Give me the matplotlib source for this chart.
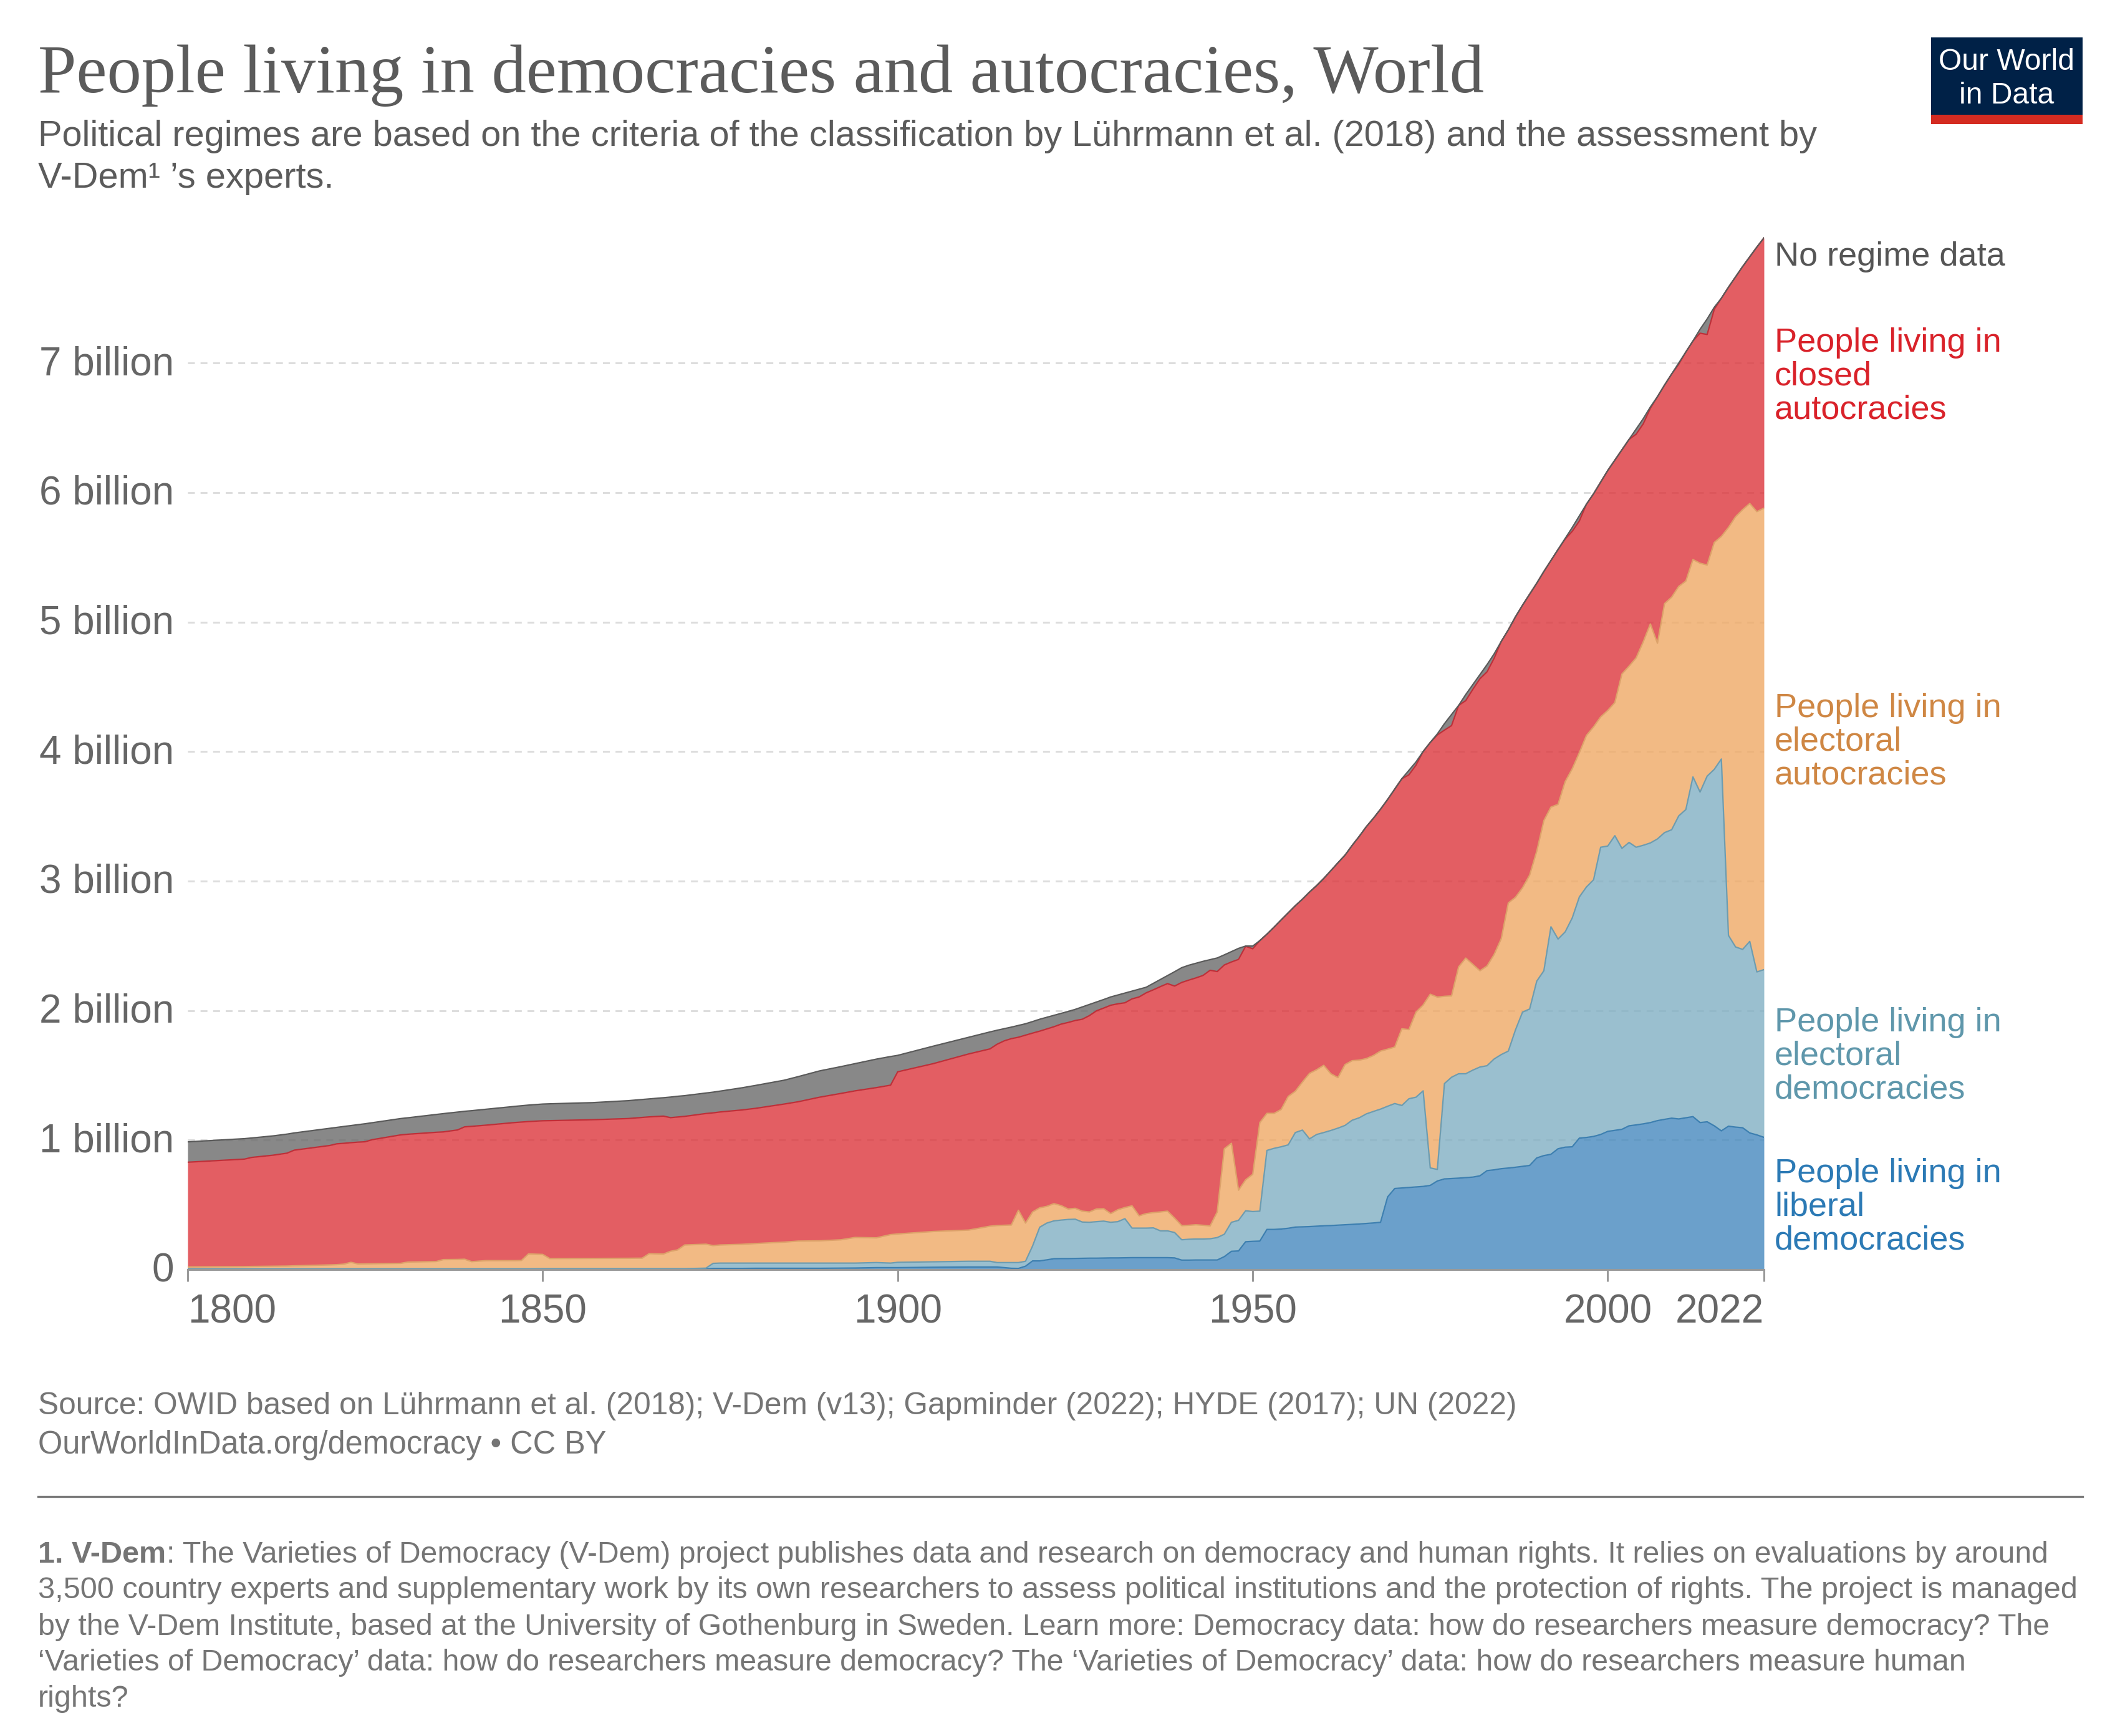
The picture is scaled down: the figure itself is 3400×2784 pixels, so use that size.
#!/usr/bin/env python3
"""People living in democracies and autocracies, World (stacked area)."""

import matplotlib

matplotlib.use("Agg")
import matplotlib.pyplot as plt
from matplotlib.patches import Rectangle
from matplotlib.transforms import ScaledTranslation

WIDTH, HEIGHT = 3400, 2784

# irregular before 1916, yearly after; all series below share this list
YEARS = [
    1800, 1808, 1809, 1812, 1814,
    1815, 1820, 1821, 1822, 1823,
    1824, 1825, 1826, 1830, 1831,
    1835, 1836, 1838, 1839, 1840,
    1842, 1846, 1847, 1848, 1850,
    1851, 1857, 1862, 1864, 1865,
    1867, 1868, 1869, 1870, 1873,
    1874, 1875, 1878, 1880, 1884,
    1886, 1889, 1892, 1894, 1897,
    1899, 1900, 1905, 1910, 1913,
    1914, 1915,
] + list(range(1916, 2023))

# upper edge of each stacked band, billions of people
LIBERAL_TOP = [
    .002, .002, .002, .002, .002,
    .002, .002, .002, .002, .002,
    .002, .002, .002, .002, .002,
    .002, .002, .002, .002, .002,
    .002, .002, .002, .002, .003,
    .003, .003, .003, .003, .003,
    .003, .003, .003, .003, .004,
    .009, .009, .009, .01, .01,
    .01, .01, .011, .012, .015,
    .015, .015, .018, .02, .02,
    .02, .015,
    .01, .009, .026, .067, .067, .075, .084, .085, .085, .086,
    .087, .088, .088, .089, .09, .09, .091, .092, .092, .092,
    .092, .092, .092, .09, .073, .073, .074, .074, .074,
    .074, .10, .141, .144, .215,
    .218, .22, .31, .31, .313, .319, .328, .33, .332, .335,
    .338, .34, .343, .346, .349, .352, .356, .36, .365, .561,
    .626, .63, .634, .638, .642, .65, .684, .70, .703, .706,
    .71, .714, .724, .764, .77, .779, .784, .79, .797, .804,
    .862, .88, .89, .933, .945, .948, 1.015, 1.02, 1.028, 1.043,
    1.067, 1.075, 1.083, 1.11, 1.117, 1.125, 1.135, 1.15, 1.16, 1.169,
    1.163, 1.172, 1.181, 1.135, 1.141, 1.11, 1.071, 1.107, 1.10, 1.095,
    1.055, 1.04, 1.021,
]

ELECTORAL_DEM_TOP = [
    .006, .006, .006, .006, .006,
    .006, .006, .006, .006, .006,
    .006, .006, .006, .006, .006,
    .006, .006, .006, .006, .006,
    .006, .006, .006, .006, .007,
    .007, .007, .007, .007, .007,
    .007, .007, .007, .007, .011,
    .048, .05, .05, .05, .05,
    .05, .05, .05, .05, .054,
    .05, .056, .06, .064, .064,
    .054, .054,
    .054, .054, .064, .183, .327, .359, .376, .382, .387, .389,
    .367, .365, .37, .374, .365, .37, .393, .32, .32, .32,
    .322, .299, .299, .286, .23, .234, .236, .236, .238,
    .247, .273, .365, .38, .454,
    .448, .451, .92, .936, .948, .963, 1.058, 1.077, 1.009, 1.043,
    1.058, 1.074, 1.092, 1.113, 1.153, 1.172, 1.202, 1.221, 1.239, 1.261,
    1.282, 1.267, 1.319, 1.331, 1.38, .785, .773, 1.436, 1.485, 1.512,
    1.512, 1.54, 1.564, 1.574, 1.626, 1.66, 1.687, 1.85, 1.988, 2.012,
    2.227, 2.307, 2.647, 2.552, 2.607, 2.715, 2.877, 2.954, 3.009, 3.261,
    3.27, 3.35, 3.252, 3.298, 3.261, 3.276, 3.294, 3.325, 3.374, 3.396,
    3.503, 3.552, 3.804, 3.687, 3.81, 3.862, 3.942, 2.58, 2.491, 2.472,
    2.534, 2.298, 2.316,
]

ELECTORAL_AUT_TOP = [
    .021, .023, .024, .026, .027,
    .029, .036, .038, .042, .056,
    .043, .044, .045, .048, .058,
    .062, .077, .078, .08, .061,
    .069, .069, .07, .121, .117,
    .085, .086, .087, .088, .123,
    .12, .141, .152, .19, .196,
    .185, .19, .195, .201, .212,
    .22, .222, .23, .248, .245,
    .27, .275, .294, .305, .335,
    .34, .342,
    .344, .458, .359, .445, .477, .488, .509, .494, .468, .473,
    .451, .445, .468, .47, .432, .462, .479, .492, .415, .432,
    .44, .445, .451, .397, .339, .342, .346, .342, .337,
    .445, .933, .975, .613, .693,
    .736, 1.135, 1.206, 1.206, 1.236, 1.337, 1.377, 1.448, 1.515, 1.543,
    1.577, 1.512, 1.482, 1.583, 1.613, 1.617, 1.629, 1.653, 1.687, 1.702,
    1.718, 1.859, 1.853, 1.988, 2.043, 2.126, 2.104, 2.11, 2.113, 2.337,
    2.405, 2.356, 2.307, 2.344, 2.433, 2.555, 2.831, 2.874, 2.948, 3.046,
    3.23, 3.466, 3.571, 3.592, 3.767, 3.867, 3.991, 4.124, 4.19, 4.267,
    4.317, 4.378, 4.599, 4.659, 4.723, 4.847, 4.985, 4.836, 5.142, 5.192,
    5.275, 5.316, 5.482, 5.454, 5.44, 5.614, 5.661, 5.73, 5.813, 5.868,
    5.915, 5.852, 5.879,
]

CLOSED_AUT_TOP = [
    .829, .853, .866, .883, .899,
    .922, .958, .971, .975, .98,
    .984, .987, 1.003, 1.04, 1.045,
    1.06, 1.063, 1.078, 1.102, 1.106,
    1.115, 1.135, 1.139, 1.143, 1.149,
    1.15, 1.157, 1.166, 1.175, 1.179,
    1.185, 1.173, 1.178, 1.183, 1.205,
    1.21, 1.217, 1.232, 1.245, 1.278,
    1.296, 1.331, 1.36, 1.38, 1.405,
    1.424, 1.527, 1.59, 1.665, 1.704,
    1.74, 1.766,
    1.783, 1.794, 1.81, 1.826, 1.841, 1.858, 1.875, 1.895, 1.908, 1.923,
    1.933, 1.961, 1.998, 2.019, 2.041, 2.052, 2.06, 2.09, 2.105, 2.137,
    2.16, 2.185, 2.208, 2.189, 2.217, 2.235, 2.252, 2.271, 2.311,
    2.301, 2.352, 2.375, 2.395, 2.496,
    2.477, 2.54, 2.59, 2.644, 2.70, 2.755, 2.81, 2.86, 2.915, 2.965,
    3.02, 3.08, 3.141, 3.20, 3.275, 3.345, 3.42, 3.485, 3.555, 3.63,
    3.71, 3.79, 3.82, 3.895, 4.0, 4.07, 4.128, 4.165, 4.2, 4.356,
    4.393, 4.48, 4.562, 4.615, 4.72, 4.85, 4.94, 5.04, 5.13, 5.215,
    5.30, 5.39, 5.475, 5.56, 5.64, 5.70, 5.78, 5.91, 5.99, 6.08,
    6.17, 6.25, 6.33, 6.41, 6.45, 6.53, 6.65, 6.74, 6.83, 6.915,
    6.99, 7.085, 7.17, 7.23, 7.22, 7.414, 7.50, 7.585, 7.665, 7.745,
    7.82, 7.895, 7.966,
]

NO_DATA_TOP = [
    .986, 1.011, 1.016, 1.032, 1.046,
    1.055, 1.091, 1.098, 1.105, 1.112,
    1.119, 1.126, 1.134, 1.166, 1.172,
    1.198, 1.204, 1.216, 1.222, 1.227,
    1.238, 1.26, 1.265, 1.27, 1.278,
    1.28, 1.289, 1.304, 1.313, 1.318,
    1.327, 1.332, 1.338, 1.343, 1.363,
    1.37, 1.378, 1.403, 1.422, 1.462,
    1.49, 1.534, 1.567, 1.59, 1.625,
    1.645, 1.654, 1.725, 1.794, 1.835,
    1.848, 1.86,
    1.872, 1.885, 1.898, 1.915, 1.933, 1.948, 1.963, 1.978, 1.993, 2.009,
    2.028, 2.047, 2.066, 2.085, 2.105, 2.12, 2.135, 2.15, 2.165, 2.18,
    2.21, 2.24, 2.27, 2.30, 2.331, 2.35, 2.365, 2.38, 2.393,
    2.406, 2.43, 2.455, 2.48, 2.498,
    2.498, 2.54, 2.59, 2.644, 2.70, 2.755, 2.81, 2.86, 2.915, 2.965,
    3.02, 3.08, 3.141, 3.20, 3.275, 3.345, 3.42, 3.485, 3.555, 3.63,
    3.71, 3.79, 3.855, 3.92, 4.0, 4.07, 4.136, 4.215, 4.286, 4.356,
    4.44, 4.517, 4.594, 4.671, 4.754, 4.85, 4.94, 5.04, 5.13, 5.215,
    5.30, 5.39, 5.475, 5.56, 5.645, 5.73, 5.82, 5.91, 5.99, 6.08,
    6.17, 6.25, 6.33, 6.41, 6.49, 6.57, 6.66, 6.74, 6.83, 6.915,
    7.0, 7.085, 7.17, 7.26, 7.34, 7.43, 7.50, 7.585, 7.665, 7.745,
    7.82, 7.895, 7.966,
]

X_TICKS = [1800, 1850, 1900, 1950, 2000, 2022]
Y_TICKS = [0, 1, 2, 3, 4, 5, 6, 7]
Y_LABELS = ["0", "1 billion", "2 billion", "3 billion", "4 billion",
            "5 billion", "6 billion", "7 billion"]

BAND_COLORS = ["#4689BE", "#81AFC3", "#EFA965", "#DC363C", "#6A6A6A"]
EDGE_COLORS = ["#3D7FB0", "#6D9CB0", "#DDA36A", "#BF2F38", "#5A5A5A"]

TITLE = "People living in democracies and autocracies, World"
SUBTITLE = [
    "Political regimes are based on the criteria of the classification by Lührmann et al. (2018) and the assessment by",
    "V-Dem¹ ’s experts.",
]
SOURCE = [
    "Source: OWID based on Lührmann et al. (2018); V-Dem (v13); Gapminder (2022); HYDE (2017); UN (2022)",
    "OurWorldInData.org/democracy • CC BY",
]
NOTE = [
    ": The Varieties of Democracy (V-Dem) project publishes data and research on democracy and human rights. It relies on evaluations by around",
    "3,500 country experts and supplementary work by its own researchers to assess political institutions and the protection of rights. The project is managed",
    "by the V-Dem Institute, based at the University of Gothenburg in Sweden. Learn more: Democracy data: how do researchers measure democracy? The",
    "‘Varieties of Democracy’ data: how do researchers measure democracy? The ‘Varieties of Democracy’ data: how do researchers measure human",
    "rights?",
]

plt.rcParams["font.family"] = ["Liberation Sans", "DejaVu Sans"]

fig = plt.figure(figsize=(WIDTH / 200, HEIGHT / 200), dpi=200, facecolor="white")


def px_text(x, y, text, **kwargs):
    return fig.text(x / WIDTH, 1 - y / HEIGHT, text, va="baseline", **kwargs)


# plot area: 1800 at x=301, 2022 at x=2829, zero at y=2036
ax = fig.add_axes([301 / WIDTH, 1 - 2036 / HEIGHT, 2528 / WIDTH, 1661.6 / HEIGHT])
ax.set_xlim(1800, 2022)
ax.set_ylim(0, 8)
ax.set_axisbelow(True)
ax.grid(axis="y", color="#DDDDDD", linewidth=1.1, linestyle=(0, (3.6, 3.0)))

tops = [LIBERAL_TOP, ELECTORAL_DEM_TOP, ELECTORAL_AUT_TOP, CLOSED_AUT_TOP, NO_DATA_TOP]
lower = [0] * len(YEARS)
for top, color, edge in zip(tops, BAND_COLORS, EDGE_COLORS):
    ax.fill_between(YEARS, lower, top, color=color, alpha=0.8, linewidth=0, zorder=2)
    ax.plot(YEARS, top, color=edge, linewidth=0.8, zorder=3, clip_on=True)
    lower = top

for side in ["top", "left", "right"]:
    ax.spines[side].set_visible(False)
ax.spines["bottom"].set_color("#999999")
ax.spines["bottom"].set_linewidth(1.1)
ax.spines["bottom"].set_zorder(5)

ax.set_yticks(Y_TICKS)
ax.set_yticklabels(Y_LABELS, fontsize=23, color="#666666")
ax.tick_params(axis="y", length=0, pad=8)
# nudge the y labels up a little so they sit on their gridlines
lift = ScaledTranslation(0, 1.6 / 72, fig.dpi_scale_trans)
for label in ax.get_yticklabels():
    label.set_transform(label.get_transform() + lift)
ax.set_xticks(X_TICKS)
ax.set_xticklabels([str(year) for year in X_TICKS], fontsize=23, color="#666666")
ax.tick_params(axis="x", length=7, width=1.1, color="#999999", pad=7)
ax.get_xticklabels()[0].set_ha("left")
ax.get_xticklabels()[-1].set_ha("right")

# series labels to the right of the plot
px_text(2846, 426, "No regime data", fontsize=19.5, color="#555555")
label_blocks = [
    (564, "People living in\nclosed\nautocracies", "#D9222A"),
    (1150, "People living in\nelectoral\nautocracies", "#CF8744"),
    (1654, "People living in\nelectoral\ndemocracies", "#5F97AB"),
    (1896, "People living in\nliberal\ndemocracies", "#2C7AB5"),
]
for y, text, color in label_blocks:
    for index, line in enumerate(text.split("\n")):
        px_text(2846, y + index * 54, line, fontsize=19.5, color=color)

# header
px_text(61, 148, TITLE, fontsize=39.8, color="#5B5B5B", family="Liberation Serif")
for y, line in zip([234, 301], SUBTITLE):
    px_text(61, y, line, fontsize=20.8, color="#5B5B5B")

# logo
fig.add_artist(Rectangle((3097 / WIDTH, 1 - 184 / HEIGHT), 243 / WIDTH, 124 / HEIGHT,
                         transform=fig.transFigure, facecolor="#002147", edgecolor="none"))
fig.add_artist(Rectangle((3097 / WIDTH, 1 - 199 / HEIGHT), 243 / WIDTH, 15 / HEIGHT,
                         transform=fig.transFigure, facecolor="#D42B21", edgecolor="none"))
px_text(3218, 112, "Our World", fontsize=17.3, color="white", ha="center")
px_text(3218, 166, "in Data", fontsize=17.3, color="white", ha="center")

# footer
for y, line, size in zip([2268, 2331], SOURCE, [17.85, 18.2]):
    px_text(61, y, line, fontsize=size, color="#757575")
fig.add_artist(plt.Line2D([61 / WIDTH, 3340 / WIDTH], [1 - 2400 / HEIGHT] * 2,
                          color="#7A7A7A", linewidth=1.2))

note_y = [2506, 2563, 2622, 2679, 2737]
note_size = [17.34, 17.5, 17.37, 17.38, 17.5]
bold = px_text(61, note_y[0], "1. V-Dem", fontsize=17.5, color="#757575", fontweight="bold")
fig.canvas.draw()
bold_end = bold.get_window_extent().x1
px_text(bold_end + 1, note_y[0], NOTE[0], fontsize=note_size[0], color="#757575")
for y, line, size in zip(note_y[1:], NOTE[1:], note_size[1:]):
    px_text(61, y, line, fontsize=size, color="#757575")

fig.savefig("out.png", dpi=200, facecolor="white")
